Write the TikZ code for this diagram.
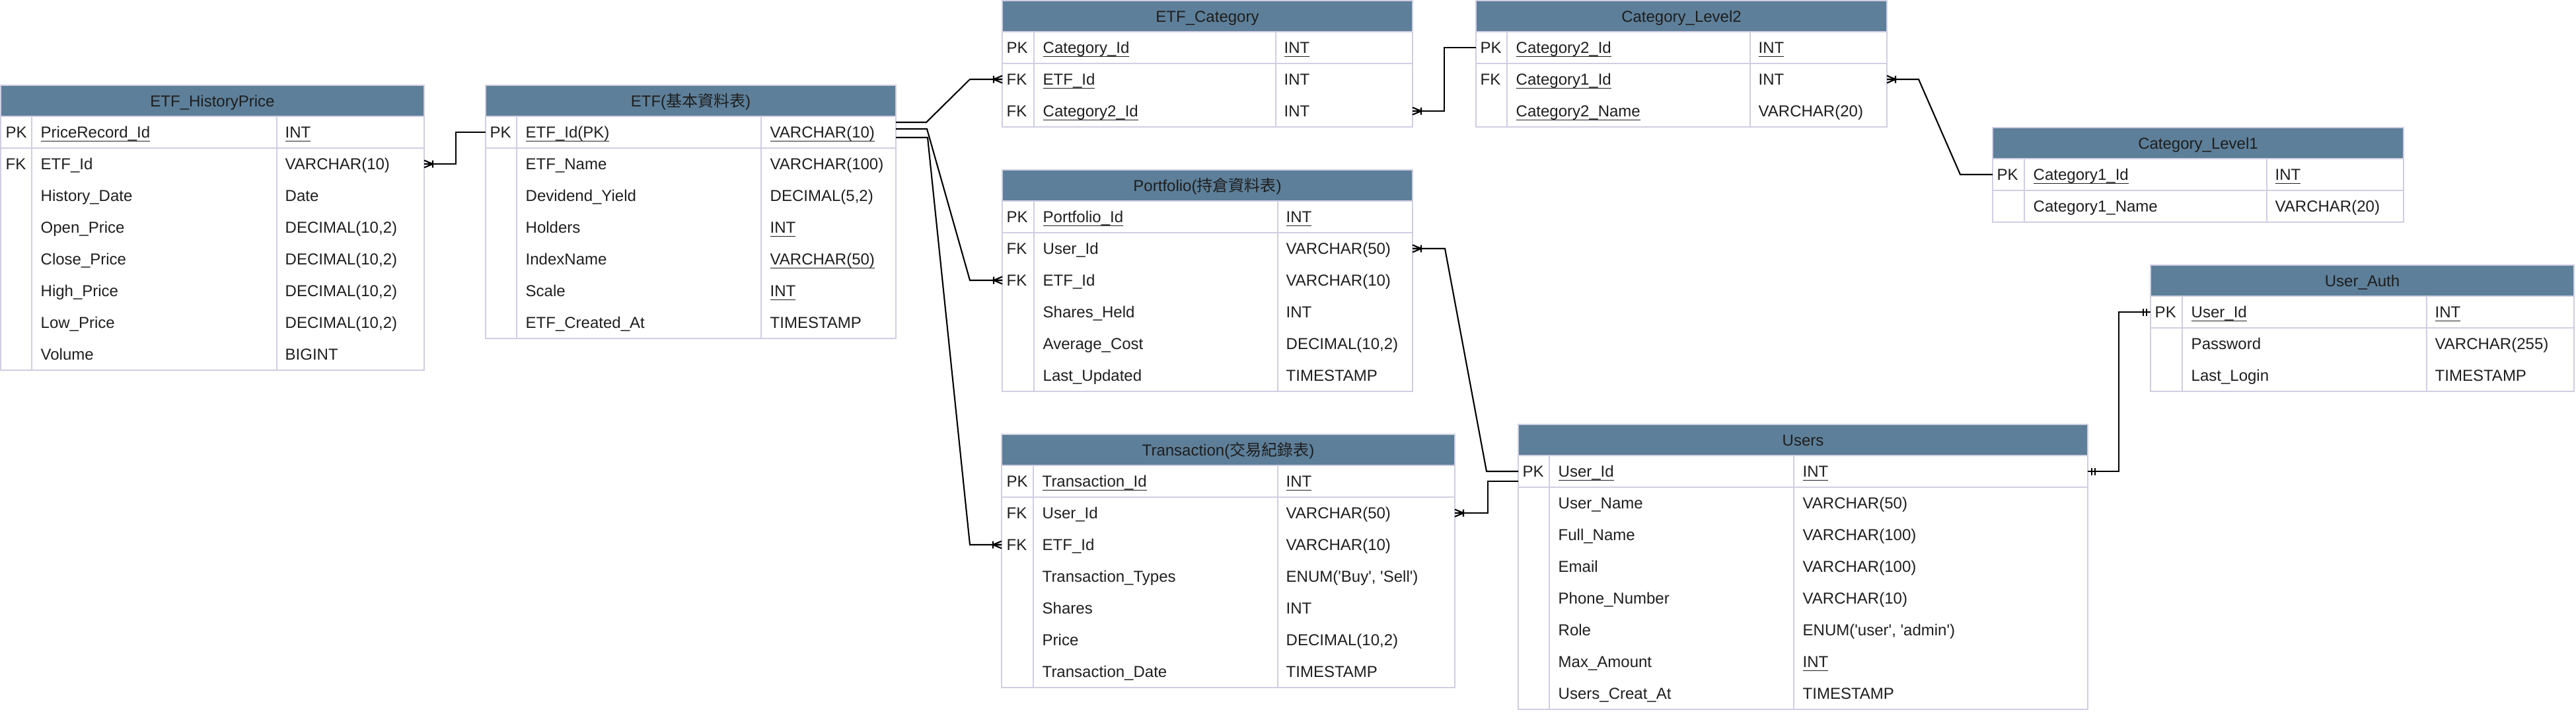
\documentclass[tikz,border=0pt]{standalone}
\usepackage{fontspec}
\setmainfont{Liberation Sans}
\newfontfamily\cjk{Noto Sans CJK TC}
\usepackage{tikz}
\usetikzlibrary{positioning}
\usepackage{xcolor}
\definecolor{hdrblue}{HTML}{5D7F99}
\definecolor{gridline}{HTML}{D0CEE2}
\definecolor{txtgray}{HTML}{1E1E1E}

\begin{document}
\begin{tikzpicture}[
    tbl/.style={draw=gridline, line width=0.6pt},
    con/.style={draw=black, line width=0.6pt},
    cell/.style={anchor=west, inner sep=0pt, text height=2.2mm, text depth=0.5mm, text=txtgray, font=\fontsize{6.83}{8}\selectfont},
    ttl/.style={inner sep=0pt, text height=2.2mm, text depth=0.5mm, text=txtgray, font=\fontsize{6.83}{8}\selectfont},
    crowmany/.pic={\draw[con] (0,0.055) -- (0.13,0) -- (0,-0.055) (0,0) -- (0.13,0) (0.13,0.055) -- (0.13,-0.055);},
    crowone/.pic={\draw[con] (0.06,0.055) -- (0.06,-0.055) (0.11,0.055) -- (0.11,-0.055);}
  ]
  \useasboundingbox (0,0) rectangle (38.99,-10.76);

  % table frames: left/key/name/right/top/bottom
  \foreach \L/\K/\N/\R/\T/\B in {0.01/0.48/4.19/6.42/1.29/5.60, 7.35/7.82/11.52/13.56/1.29/5.12,
      15.17/15.65/19.31/21.38/0.01/1.92, 22.34/22.81/26.49/28.56/0.01/1.92,
      30.16/30.64/34.31/36.38/1.93/3.36, 32.55/33.03/36.73/38.96/4.01/5.92,
      15.17/15.65/19.34/21.38/2.57/5.92, 15.16/15.64/19.34/22.02/6.57/10.40,
      22.98/23.45/27.15/31.60/6.42/10.73}{
    \fill[hdrblue] (\L,-\T) rectangle (\R,-\T-0.47);
    \draw[tbl] (\L,-\T) rectangle (\R,-\B)
      (\L,-\T-0.47) -- (\R,-\T-0.47) (\L,-\T-0.95) -- (\R,-\T-0.95)
      (\K,-\T-0.47) -- (\K,-\B) (\N,-\T-0.47) -- (\N,-\B);
  }

  % ETF_HistoryPrice
  \node[ttl] (hp) at (3.215,-1.525) {ETF\_HistoryPrice};
  \foreach \k/\n/\t [count=\i from 0] in {PK/\underline{\smash{PriceRecord\_Id}}/\underline{INT}, FK/ETF\_Id/VARCHAR(10),
      /History\_Date/Date, /Open\_Price/{DECIMAL(10,2)}, /Close\_Price/{DECIMAL(10,2)},
      /High\_Price/{DECIMAL(10,2)}, /Low\_Price/{DECIMAL(10,2)}, /Volume/BIGINT}{
    \node[cell] (hp-k\i) at (0.08,-2.00-\i*0.48) {\k};
    \node[cell] (hp-n\i) at (0.61,-2.00-\i*0.48) {\n};
    \node[cell] (hp-t\i) at (4.31,-2.00-\i*0.48) {\t};
  }

  % ETF
  \node[ttl] (etf) at (10.455,-1.525) {ETF({\cjk 基本資料表})};
  \foreach \k/\n/\t [count=\i from 0] in {PK/\underline{\smash{ETF\_Id(PK)}}/\underline{\smash{VARCHAR(10)}}, /ETF\_Name/VARCHAR(100),
      /Devidend\_Yield/{DECIMAL(5,2)}, /Holders/\underline{INT}, /IndexName/\underline{\smash{VARCHAR(50)}},
      /Scale/\underline{INT}, /ETF\_Created\_At/TIMESTAMP}{
    \node[cell] (etf-k\i) at (7.41,-2.00-\i*0.48) {\k};
    \node[cell] (etf-n\i) at (7.95,-2.00-\i*0.48) {\n};
    \node[cell] (etf-t\i) at (11.65,-2.00-\i*0.48) {\t};
  }

  % ETF_Category
  \node[ttl] (cat) at (18.275,-0.245) {ETF\_Category};
  \foreach \k/\n/\t [count=\i from 0] in {PK/\underline{\smash{Category\_Id}}/\underline{INT}, FK/\underline{\smash{ETF\_Id}}/INT,
      FK/\underline{\smash{Category2\_Id}}/INT}{
    \node[cell] (cat-k\i) at (15.23,-0.72-\i*0.48) {\k};
    \node[cell] (cat-n\i) at (15.78,-0.72-\i*0.48) {\n};
    \node[cell] (cat-t\i) at (19.43,-0.72-\i*0.48) {\t};
  }

  % Category_Level2
  \node[ttl] (lv2) at (25.45,-0.245) {Category\_Level2};
  \foreach \k/\n/\t [count=\i from 0] in {PK/\underline{\smash{Category2\_Id}}/\underline{INT}, FK/\underline{\smash{Category1\_Id}}/INT,
      /\underline{\smash{Category2\_Name}}/VARCHAR(20)}{
    \node[cell] (lv2-k\i) at (22.40,-0.72-\i*0.48) {\k};
    \node[cell] (lv2-n\i) at (22.94,-0.72-\i*0.48) {\n};
    \node[cell] (lv2-t\i) at (26.61,-0.72-\i*0.48) {\t};
  }

  % Category_Level1
  \node[ttl] (lv1) at (33.27,-2.165) {Category\_Level1};
  \foreach \k/\n/\t [count=\i from 0] in {PK/\underline{\smash{Category1\_Id}}/\underline{INT}, /Category1\_Name/VARCHAR(20)}{
    \node[cell] (lv1-k\i) at (30.22,-2.64-\i*0.48) {\k};
    \node[cell] (lv1-n\i) at (30.77,-2.64-\i*0.48) {\n};
    \node[cell] (lv1-t\i) at (34.43,-2.64-\i*0.48) {\t};
  }

  % User_Auth
  \node[ttl] (auth) at (35.755,-4.245) {User\_Auth};
  \foreach \k/\n/\t [count=\i from 0] in {PK/\underline{\smash{User\_Id}}/\underline{INT}, /Password/VARCHAR(255),
      /Last\_Login/TIMESTAMP}{
    \node[cell] (auth-k\i) at (32.61,-4.72-\i*0.48) {\k};
    \node[cell] (auth-n\i) at (33.16,-4.72-\i*0.48) {\n};
    \node[cell] (auth-t\i) at (36.85,-4.72-\i*0.48) {\t};
  }

  % Portfolio
  \node[ttl] (port) at (18.275,-2.805) {Portfolio({\cjk 持倉資料表})};
  \foreach \k/\n/\t [count=\i from 0] in {PK/\underline{\smash{Portfolio\_Id}}/\underline{INT}, FK/User\_Id/VARCHAR(50),
      FK/ETF\_Id/VARCHAR(10), /Shares\_Held/INT, /Average\_Cost/{DECIMAL(10,2)}, /Last\_Updated/TIMESTAMP}{
    \node[cell] (port-k\i) at (15.23,-3.28-\i*0.48) {\k};
    \node[cell] (port-n\i) at (15.78,-3.28-\i*0.48) {\n};
    \node[cell] (port-t\i) at (19.46,-3.28-\i*0.48) {\t};
  }

  % Transaction
  \node[ttl] (tx) at (18.59,-6.805) {Transaction({\cjk 交易紀錄表})};
  \foreach \k/\n/\t [count=\i from 0] in {PK/\underline{\smash{Transaction\_Id}}/\underline{INT}, FK/User\_Id/VARCHAR(50),
      FK/ETF\_Id/VARCHAR(10), /Transaction\_Types/{ENUM(\textquotesingle Buy\textquotesingle, \textquotesingle Sell\textquotesingle)},
      /Shares/INT, /Price/{DECIMAL(10,2)}, /Transaction\_Date/TIMESTAMP}{
    \node[cell] (tx-k\i) at (15.23,-7.28-\i*0.48) {\k};
    \node[cell] (tx-n\i) at (15.77,-7.28-\i*0.48) {\n};
    \node[cell] (tx-t\i) at (19.46,-7.28-\i*0.48) {\t};
  }

  % Users
  \node[ttl] (usr) at (27.29,-6.655) {Users};
  \foreach \k/\n/\t [count=\i from 0] in {PK/\underline{\smash{User\_Id}}/\underline{INT}, /User\_Name/VARCHAR(50),
      /Full\_Name/VARCHAR(100), /Email/VARCHAR(100), /Phone\_Number/VARCHAR(10),
      /Role/{ENUM(\textquotesingle user\textquotesingle, \textquotesingle admin\textquotesingle)},
      /Max\_Amount/\underline{INT}, /Users\_Creat\_At/TIMESTAMP}{
    \node[cell] (usr-k\i) at (23.04,-7.13-\i*0.48) {\k};
    \node[cell] (usr-n\i) at (23.58,-7.13-\i*0.48) {\n};
    \node[cell] (usr-t\i) at (27.28,-7.13-\i*0.48) {\t};
  }

  % relation end points
  \coordinate (hp-fk) at (6.42,-2.48);
  \coordinate (etf-pk) at (7.35,-2.00);
  \coordinate (etf-o1) at (13.56,-1.85);
  \coordinate (etf-o2) at (13.56,-1.95);
  \coordinate (etf-o3) at (13.56,-2.08);
  \coordinate (cat-etf) at (15.17,-1.20);
  \coordinate (cat-c2) at (21.38,-1.68);
  \coordinate (lv2-pk) at (22.34,-0.72);
  \coordinate (lv2-c1) at (28.56,-1.20);
  \coordinate (lv1-pk) at (30.16,-2.64);
  \coordinate (port-usr) at (21.38,-3.76);
  \coordinate (port-etf) at (15.17,-4.24);
  \coordinate (tx-usr) at (22.02,-7.76);
  \coordinate (tx-etf) at (15.16,-8.24);
  \coordinate (usr-pk) at (22.98,-7.13);
  \coordinate (usr-pk2) at (22.98,-7.28);
  \coordinate (usr-pkr) at (31.60,-7.13);
  \coordinate (auth-pk) at (32.55,-4.72);

  % relations
  \draw[con] (hp-fk) -- ++(0.48,0) |- (etf-pk);
  \draw[con] (etf-o1) -- ++(0.46,0) -- ([xshift=-4.9mm]cat-etf) -- (cat-etf);
  \draw[con] (etf-o2) -- ++(0.47,0) -- ([xshift=-4.9mm]port-etf) -- (port-etf);
  \draw[con] (etf-o3) -- ++(0.48,0) -- ([xshift=-4.8mm]tx-etf) -- (tx-etf);
  \draw[con] (cat-c2) -- ++(0.48,0) |- (lv2-pk);
  \draw[con] (lv2-c1) -- ++(0.48,0) -- ([xshift=-4.9mm]lv1-pk) -- (lv1-pk);
  \draw[con] (port-usr) -- ++(0.49,0) -- ([xshift=-4.8mm]usr-pk) -- (usr-pk);
  \draw[con] (tx-usr) -- ++(0.50,0) |- (usr-pk2);
  \draw[con] (auth-pk) -- ++(-0.48,0) |- (usr-pkr);

  \pic at (hp-fk) {crowmany};
  \pic[rotate=180] at (cat-etf) {crowmany};
  \pic[rotate=180] at (port-etf) {crowmany};
  \pic[rotate=180] at (tx-etf) {crowmany};
  \pic at (cat-c2) {crowmany};
  \pic at (lv2-c1) {crowmany};
  \pic at (port-usr) {crowmany};
  \pic at (tx-usr) {crowmany};
  \pic[rotate=180] at (auth-pk) {crowone};
  \pic at (usr-pkr) {crowone};
\end{tikzpicture}
\end{document}
